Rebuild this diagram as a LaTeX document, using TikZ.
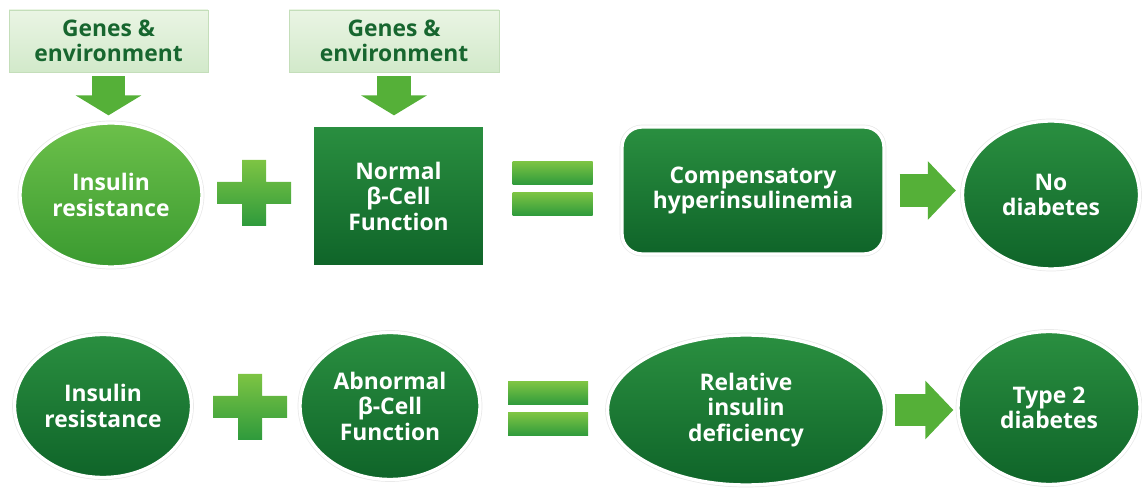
\documentclass[tikz,border=0pt]{standalone}
\usepackage{fontspec}
\setmainfont{Open Sans}
\usepackage{tikz}
\usetikzlibrary{shapes,arrows.meta}
\definecolor{gtop}{HTML}{2A8F40}
\definecolor{gbot}{HTML}{0F6429}
\definecolor{ltop}{HTML}{6CC04A}
\definecolor{lbot}{HTML}{3A9A30}
\definecolor{signtop}{HTML}{7DC443}
\definecolor{signbot}{HTML}{2E9A3C}
\definecolor{boxtop}{HTML}{EAF5E4}
\definecolor{boxbot}{HTML}{D2E9CA}
\definecolor{boxline}{HTML}{C4DEBA}
\definecolor{boxtxt}{HTML}{17662F}
\definecolor{arrowgreen}{HTML}{55B038}

\begin{document}
\begin{tikzpicture}[x=0.02cm,y=0.02cm,
  every node/.style={font=\fontsize{13}{14.5}\selectfont\bfseries,align=center,inner sep=0pt},
  halo/.style={preaction={draw=black!9,line width=2.7pt},draw=white,line width=1.9pt},
  darknode/.style={halo,top color=gtop,bottom color=gbot,text=white},
  lightnode/.style={halo,top color=ltop,bottom color=lbot,text=white},
  genesbox/.style={draw=boxline,top color=boxtop,bottom color=boxbot,text=boxtxt,minimum height=1.24cm},
  downarrow/.style={draw=arrowgreen,line width=0.68cm,-{Triangle[length=0.4cm,width=1.3cm]}},
  rightarrow/.style={draw=arrowgreen,line width=0.66cm,-{Triangle[length=0.56cm,width=1.14cm]}},
  plussign/.pic={\shade[top color=signtop,bottom color=signbot] (-12,-33) -- (12,-33) -- (12,-11) -- (37,-11) -- (37,11) -- (12,11) -- (12,33) -- (-12,33) -- (-12,11) -- (-37,11) -- (-37,-11) -- (-12,-11) -- cycle;},
  eqsign/.pic={\shade[top color=signtop,bottom color=signbot] (-40,4) rectangle (40,27);
    \shade[top color=signtop,bottom color=signbot] (-40,-4) rectangle (40,-27);}]
\useasboundingbox (0,0) rectangle (1142,490);

\node[genesbox,minimum width=3.98cm] (genes1) at (108.5,449) {Genes \&\\environment};
\node[genesbox,minimum width=4.2cm] (genes2) at (394,449) {Genes \&\\environment};

\node[lightnode,ellipse,minimum width=3.64cm,minimum height=2.88cm] (ir1) at (111,295) {Insulin\\resistance};
\node[darknode,rectangle,minimum width=3.46cm,minimum height=2.84cm] (normal) at (398.5,294) {Normal\\β-Cell\\Function};
\node[darknode,rectangle,rounded corners=0.4cm,minimum width=5.24cm,minimum height=2.54cm] (comp) at (753,299.5) {Compensatory\\hyperinsulinemia};
\node[darknode,ellipse,minimum width=3.54cm,minimum height=2.96cm] (nodiab) at (1051,295) {No\\diabetes};

\node[darknode,ellipse,minimum width=3.54cm,minimum height=2.86cm] (ir2) at (103,84) {Insulin\\resistance};
\node[darknode,ellipse,minimum width=3.6cm,minimum height=2.94cm] (abn) at (390,84) {Abnormal\\β-Cell\\Function};
\node[darknode,ellipse,minimum width=5.54cm,minimum height=3cm] (rel) at (746,80) {Relative\\insulin\\deficiency};
\node[darknode,ellipse,minimum width=3.64cm,minimum height=3.06cm] (type2) at (1049,82) {Type 2\\diabetes};

\pic at (254,297) {plussign};
\pic at (552.5,301.5) {eqsign};
\pic at (250,83) {plussign};
\pic at (548,81) {eqsign};

\draw[downarrow,shorten <=0.08cm,shorten >=0.12cm] (genes1.south) -- (genes1.south |- ir1.north);
\draw[downarrow,shorten <=0.08cm,shorten >=0.16cm] (genes2.south) -- (genes2.south |- normal.north);
\draw[rightarrow,shorten <=0.28cm,shorten >=0.1cm] (comp.east) -- (comp.east -| nodiab.west);
\draw[rightarrow,shorten <=0.17cm,shorten >=0.06cm] (rel.east) -- (rel.east -| type2.west);
\end{tikzpicture}
\end{document}
